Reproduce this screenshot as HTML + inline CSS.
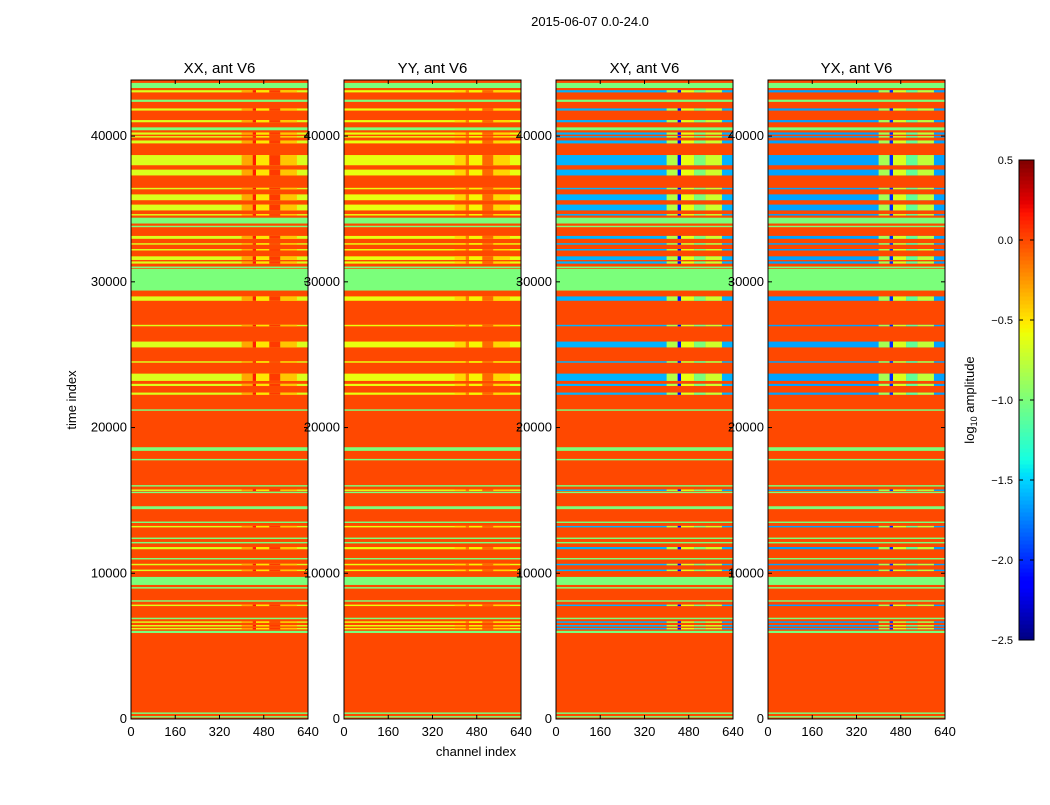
<!DOCTYPE html>
<html><head><meta charset="utf-8">
<style>
html,body{margin:0;padding:0;background:#fff;}
svg text{font-family:"Liberation Sans",sans-serif;}
</style></head>
<body>
<svg id="fig" width="1050" height="800" xmlns="http://www.w3.org/2000/svg">
<rect width="1050" height="800" fill="#fff"/>
<text x="590" y="26" font-size="13" text-anchor="middle">2015-06-07 0.0-24.0</text>
<text x="76" y="400" font-size="13" text-anchor="middle" transform="rotate(-90 76 400)">time index</text>
<text x="476" y="756" font-size="13" text-anchor="middle">channel index</text>
<g id="panels"></g>
<g id="cbar"></g>
</svg>
<script>
// band data (time index ranges and kind: g=flagged uniform, d=data band)
const bandStart=[43300,43000,42350,41750,40950,40400,40100,39900,39500,38000,37300,36350,35600,34900,34550,34000,33750,32950,32550,32150,31500,31250,30950,29400,28700,26950,25500,24450,23200,22850,22250,21150,18400,17750,15950,15650,15500,14400,13450,13150,12350,12050,11650,10950,10550,10150,9200,8950,8050,7750,6850,6600,6350,6150,5900,350,100];
const bandEnd  =[43650,43150,42500,41900,41100,40600,40250,40000,39700,38700,37700,36450,36000,35300,34650,34400,33850,33150,32650,32250,31750,31400,31050,30900,29000,27050,25900,24550,23700,23000,22400,21250,18650,17850,16050,15750,15600,14600,13550,13250,12450,12150,11800,11050,10650,10250,9750,9050,8150,7850,6950,6700,6450,6250,6050,450,200];
const bandKind =['g','d','g','d','d','g','d','d','d','d','d','d','d','d','d','g','g','d','d','d','d','d','g','g','d','d','d','d','d','d','d','g','g','g','g','d','g','g','g','d','g','g','d','g','d','d','g','g','g','d','g','d','d','d','g','g','g'];
const panelTitles=['XX, ant V6','YY, ant V6','XY, ant V6','YX, ant V6'];
const xTickLabels=[0,160,320,480,640];
const yTickLabels=[0,10000,20000,30000,40000];
const cbarTicks=[0.5,0.0,-0.5,-1.0,-1.5,-2.0,-2.5];
// log10 amplitude values per panel
const bgValue=[0.0,0.0,0.0,0.0];
const flagValue=[-1.0,-1.0,-1.0,-1.0];
const dataLeft=[-0.65,-0.6,-1.6,-1.65];
const centerChannels=[400,440,452,500,540,600];
const centerVals=[[-0.3,0.15,-0.5,0.05,-0.4],[-0.45,-0.15,-0.55,-0.1,-0.45],[-0.8,-2.1,-0.6,-1.0,-0.7],[-0.85,-2.0,-0.65,-1.1,-0.75]];
const vmin=-2.5,vmax=0.5,tmax=43850,cmax=640;

function interp(f,pts){for(let i=1;i<pts.length;i++){if(f<=pts[i][0]){const a=pts[i-1],b=pts[i];return a[1]+(b[1]-a[1])*(f-a[0])/(b[0]-a[0]);}}return pts[pts.length-1][1];}
function jet(v){let f=(v-vmin)/(vmax-vmin);f=Math.max(0,Math.min(1,f));
 const r=interp(f,[[0,0],[0.35,0],[0.66,1],[0.89,1],[1,0.5]]);
 const g=interp(f,[[0,0],[0.125,0],[0.375,1],[0.64,1],[0.91,0],[1,0]]);
 const b=interp(f,[[0,0.5],[0.11,1],[0.34,1],[0.65,0],[1,0]]);
 return `rgb(${Math.round(r*255)},${Math.round(g*255)},${Math.round(b*255)})`;}
const NS='http://www.w3.org/2000/svg';
function el(t,a,p){const e=document.createElementNS(NS,t);for(const k in a)e.setAttribute(k,a[k]);p.appendChild(e);return e;}
const panelX=[131,344,556,768],PW=177,PT=80,PB=719;
const yS=t=>PB-(t/tmax)*(PB-PT);
const P=document.getElementById('panels');
panelTitles.forEach((title,p)=>{
 const x0=panelX[p];const xS=c=>x0+c/cmax*PW;
 const g=el('g',{},P);
 
 
 const bg=el('rect',{x:x0,y:PT,width:PW,height:PB-PT,fill:jet(bgValue[p])},g);
 
 
 bandStart.forEach((s,i)=>{
  const y1=yS(bandEnd[i]),y2=yS(s),h=Math.max(1.2,y2-y1);
  if(bandKind[i]==='g'){
   const r=el('rect',{x:x0,y:y1,width:PW,height:h,fill:jet(flagValue[p])},g);
   
   
  }else{
   const r=el('rect',{x:x0,y:y1,width:PW,height:h,fill:jet(dataLeft[p])},g);
   
   
   for(let k=0;k<centerVals[p].length;k++){
    const c=el('rect',{x:xS(centerChannels[k]),y:y1,width:xS(centerChannels[k+1])-xS(centerChannels[k]),height:h,fill:jet(centerVals[p][k])},g);
    
    
   }
  }
 });
 const fr=el('rect',{x:x0,y:PT,width:PW,height:PB-PT,fill:'none',stroke:'#000','stroke-width':1},g);
 
 
 const tt=el('text',{x:x0+PW/2,y:PT-7,'font-size':15,'text-anchor':'middle'},g);tt.textContent=title;
 
 
 xTickLabels.forEach(v=>{const x=xS(v);
  el('line',{x1:x,x2:x,y1:PB,y2:PB-4,stroke:'#000'},g);el('line',{x1:x,x2:x,y1:PT,y2:PT+4,stroke:'#000'},g);
  const t=el('text',{x:x,y:PB+17,'font-size':13,'text-anchor':'middle'},g);t.textContent=v;
  
  });
 yTickLabels.forEach(v=>{const y=yS(v);
  el('line',{x1:x0,x2:x0+4,y1:y,y2:y,stroke:'#000'},g);el('line',{x1:x0+PW,x2:x0+PW-4,y1:y,y2:y,stroke:'#000'},g);
  const t=el('text',{x:x0-4,y:y+4,'font-size':13,'text-anchor':'end'},g);t.textContent=v;
  
  });
});
// colorbar
const C=document.getElementById('cbar');const cx=1019,cw=15,cT=160,cB=640;
const cy=v=>cB-(v-vmin)/(vmax-vmin)*(cB-cT);
for(let i=0;i<120;i++){const v0=vmin+i*(vmax-vmin)/120,v1=vmin+(i+1)*(vmax-vmin)/120;
 el('rect',{x:cx,y:cy(v1),width:cw,height:cy(v0)-cy(v1)+0.5,fill:jet((v0+v1)/2)},C);}
el('rect',{x:cx,y:cT,width:cw,height:cB-cT,fill:'none',stroke:'#000'},C);
cbarTicks.forEach(v=>{const y=cy(v);
 el('line',{x1:cx,x2:cx+4,y1:y,y2:y,stroke:'#000'},C);el('line',{x1:cx+cw,x2:cx+cw-4,y1:y,y2:y,stroke:'#000'},C);
 const t=el('text',{x:cx-6,y:y+4,'font-size':11,'text-anchor':'end'},C);t.textContent=(v<0?'\u2212':'')+Math.abs(v).toFixed(1);
 
 });
const ct=el('text',{x:974,y:400,'font-size':13,'text-anchor':'middle',transform:'rotate(-90 974 400)'},C);


ct.innerHTML='log<tspan font-size="9" dy="3">10</tspan><tspan dy="-3"> amplitude</tspan>';
</script>
</body></html>
